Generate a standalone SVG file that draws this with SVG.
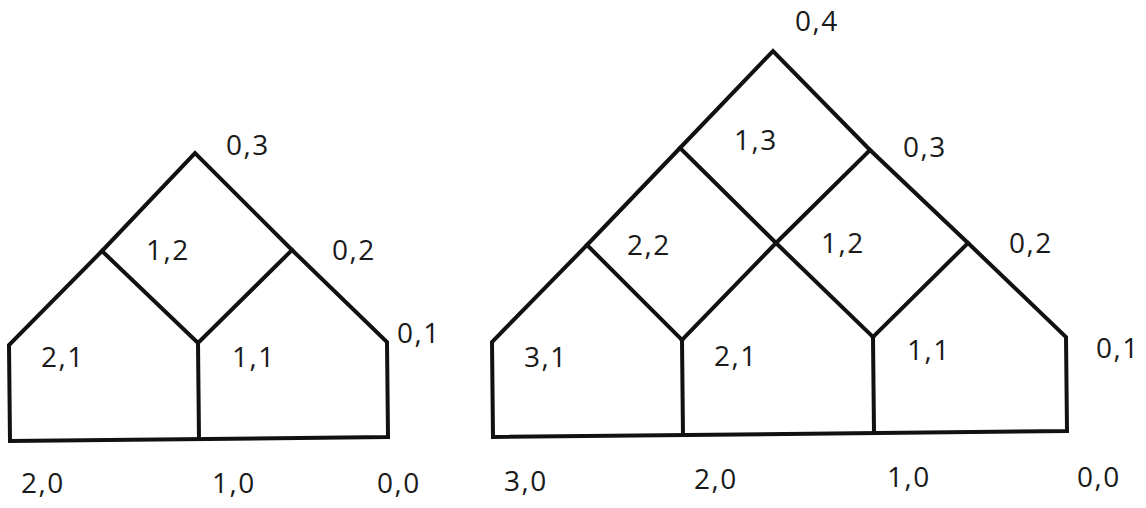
<svg xmlns="http://www.w3.org/2000/svg" width="1146" height="508" viewBox="0 0 1146 508">
<style>
.ln{fill:none;stroke:#111;stroke-width:4;stroke-linejoin:miter;stroke-linecap:square}
.lb{font-family:"Open Sans","Noto Sans",sans-serif;font-size:28px;letter-spacing:1.5px;fill:#1a1a1a}
</style>
<rect width="1146" height="508" fill="#fff"/>
<g id="connectors">
  <!-- left figure -->
  <path class="ln" d="M10,441 L9,345 L102,251 L195,153 L292,250 L387,342 L388,437 Z"/>
  <path class="ln" d="M102,251 L198,343 L292,250"/>
  <path class="ln" d="M198,343 L199,439"/>
  <!-- right figure -->
  <path class="ln" d="M493,437 L492,342 L587,245 L680,148 L773,51 L870,150 L968,243 L1066,337 L1067,431 Z"/>
  <path class="ln" d="M680,148 L776,243 L873,337"/>
  <path class="ln" d="M870,150 L776,243 L682,340"/>
  <path class="ln" d="M587,245 L682,340"/>
  <path class="ln" d="M968,243 L873,337"/>
  <path class="ln" d="M682,340 L683,435"/>
  <path class="ln" d="M873,337 L874,432"/>
</g>
<g id="left-labels">
  <text class="lb" x="226" y="155">0,3</text>
  <text class="lb" x="146" y="260">1,2</text>
  <text class="lb" x="332" y="260">0,2</text>
  <text class="lb" x="397" y="343">0,1</text>
  <text class="lb" x="41" y="367">2,1</text>
  <text class="lb" x="232" y="367">1,1</text>
  <text class="lb" x="21" y="493">2,0</text>
  <text class="lb" x="212" y="493">1,0</text>
  <text class="lb" x="377" y="493">0,0</text>
</g>
<g id="right-labels">
  <text class="lb" x="795" y="31">0,4</text>
  <text class="lb" x="734" y="150">1,3</text>
  <text class="lb" x="903" y="157">0,3</text>
  <text class="lb" x="627" y="255">2,2</text>
  <text class="lb" x="821" y="253">1,2</text>
  <text class="lb" x="1009" y="253">0,2</text>
  <text class="lb" x="1096" y="358">0,1</text>
  <text class="lb" x="524" y="367">3,1</text>
  <text class="lb" x="714" y="366">2,1</text>
  <text class="lb" x="907" y="360">1,1</text>
  <text class="lb" x="504" y="491">3,0</text>
  <text class="lb" x="694" y="489">2,0</text>
  <text class="lb" x="887" y="487">1,0</text>
  <text class="lb" x="1077" y="487">0,0</text>
</g>
</svg>
